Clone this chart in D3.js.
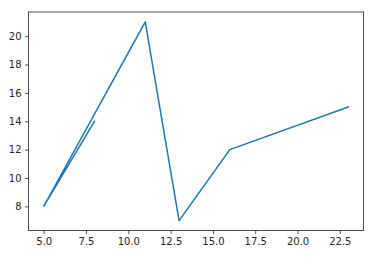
<!DOCTYPE html>
<html>
<head>
<meta charset="utf-8">
<script src="https://cdn.jsdelivr.net/npm/d3@7"></script>
<style>
  body { margin: 0; background: #fff; }
  svg { display: block; }
  .tick text { font-family: 'DejaVu Sans', sans-serif; font-size: 10px; fill: #262626; }
</style>
</head>
<body>
<div id="chart"></div>
<script>
// values, in plotting order
var xValues = [8, 5, 11, 13, 16, 23]
var yValues = [14, 8, 21, 7, 12, 15]
var xTicks = [5, 7.5, 10, 12.5, 15, 17.5, 20, 22.5]
var yTicks = [8, 10, 12, 14, 16, 18, 20]

var width = 392
var height = 261
var margin = { top: 12, right: 28.5, bottom: 30.5, left: 28.5 }

var svg = d3.select('#chart').append('svg')
  .attr('width', width)
  .attr('height', height)

// matplotlib style 5% padding around data extent
function padded (values) {
  var ext = d3.extent(values)
  var pad = (ext[1] - ext[0]) * 0.05
  return [ext[0] - pad, ext[1] + pad]
}

var x = d3.scaleLinear().domain(padded(xValues)).range([margin.left, width - margin.right])
var y = d3.scaleLinear().domain(padded(yValues)).range([height - margin.bottom, margin.top])

var xAxis = d3.axisBottom(x).tickValues(xTicks).tickSize(3.5).tickPadding(3.5)
  .tickFormat(d3.format('.1f'))
var yAxis = d3.axisLeft(y).tickValues(yTicks).tickSize(3.5).tickPadding(3.5)
  .tickFormat(d3.format('d'))

var gx = svg.append('g')
  .attr('transform', 'translate(0,' + (height - margin.bottom) + ')')
  .call(xAxis)
var gy = svg.append('g')
  .attr('transform', 'translate(' + margin.left + ',0)')
  .call(yAxis)

gx.select('.domain').remove()
gy.select('.domain').remove()
svg.selectAll('.tick line').attr('stroke', '#262626').attr('stroke-width', 0.8)

var line = d3.line()
  .x(function (d, i) { return x(xValues[i]) })
  .y(function (d, i) { return y(yValues[i]) })

svg.append('path')
  .datum(xValues)
  .attr('fill', 'none')
  .attr('stroke', '#1f77b4')
  .attr('stroke-width', 1.5)
  .attr('stroke-linejoin', 'round')
  .attr('stroke-linecap', 'square')
  .attr('d', line)

// axes frame
svg.append('rect')
  .attr('x', margin.left)
  .attr('y', margin.top)
  .attr('width', width - margin.left - margin.right)
  .attr('height', height - margin.top - margin.bottom)
  .attr('fill', 'none')
  .attr('stroke', '#262626')
  .attr('stroke-width', 0.8)
</script>
</body>
</html>
